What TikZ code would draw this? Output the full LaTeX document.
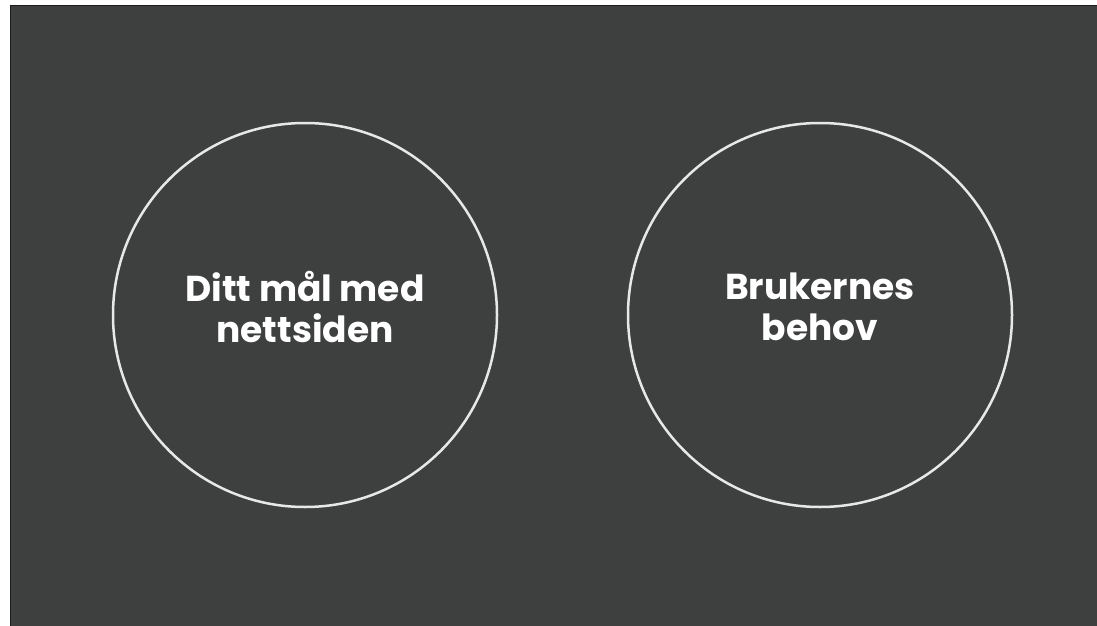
\documentclass[tikz,border=0pt]{standalone}
\usepackage{fontspec}
\setmainfont{Poppins}[BoldFont={* Bold}]
\definecolor{bgdark}{HTML}{3E403F}
\definecolor{edge}{HTML}{1C1C1C}
\definecolor{ring}{HTML}{E8E8E8}
\begin{document}
\begin{tikzpicture}[x=1pt,y=-1pt,
  ringnode/.style={circle,draw=ring,line width=2.5pt,minimum size=384pt,inner sep=0pt},
  label/.style={text=white,align=center,font=\fontsize{36}{41}\selectfont\bfseries}]
\useasboundingbox (0,0) rectangle (1097,626);
\fill[white] (0,0) rectangle (1097,626);
\draw[fill=bgdark,draw=edge,line width=1pt] (10.5,5.5) rectangle (1100,630);
\node[ringnode] (goal) at (305,315) {};
\node[ringnode] (needs) at (820,315) {};
\node[label] (goaltext) at (305,307) {Ditt mål med\\nettsiden};
\node[label] (needstext) at (820,307) {Brukernes\\behov};
\end{tikzpicture}
\end{document}
